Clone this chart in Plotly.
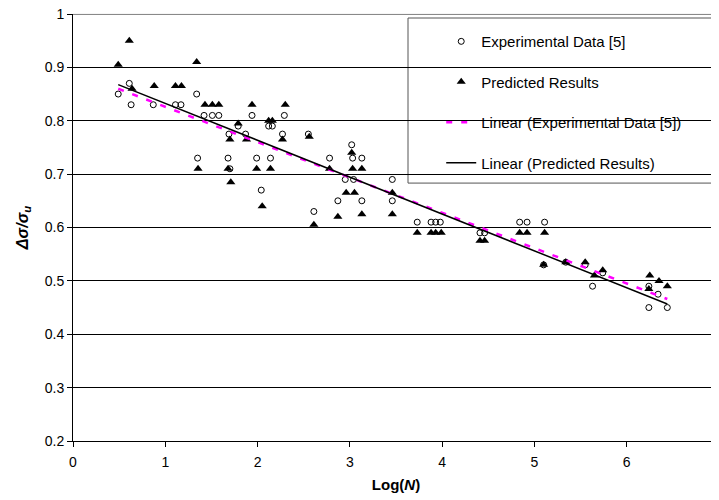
import numpy as np
import plotly.graph_objects as go

# Experimental data [5]
exp_x = [0.49, 0.61, 0.63, 0.87, 1.11, 1.17, 1.34, 1.35, 1.42, 1.51, 1.58,
         1.69, 1.68, 1.70, 1.79, 1.87, 1.94, 1.99, 2.04, 2.12, 2.16, 2.14,
         2.27, 2.29, 2.55, 2.61, 2.78, 2.87, 2.95, 3.02, 3.03, 3.04, 3.13,
         3.13, 3.46, 3.46, 3.73, 3.88, 3.93, 3.98, 4.41, 4.46, 4.84, 4.92,
         5.11, 5.10, 5.34, 5.55, 5.63, 5.74, 6.24, 6.24, 6.34, 6.44]
exp_y = [0.85, 0.87, 0.83, 0.83, 0.83, 0.83, 0.85, 0.73, 0.81, 0.81, 0.81,
         0.775, 0.73, 0.71, 0.79, 0.775, 0.81, 0.73, 0.67, 0.79, 0.79, 0.73,
         0.775, 0.81, 0.775, 0.63, 0.73, 0.65, 0.69, 0.755, 0.73, 0.69, 0.73,
         0.65, 0.69, 0.65, 0.61, 0.61, 0.61, 0.61, 0.59, 0.59, 0.61, 0.61,
         0.61, 0.53, 0.535, 0.53, 0.49, 0.515, 0.49, 0.45, 0.475, 0.45]

# Predicted results
pred_x = [0.49, 0.61, 0.64, 0.88, 1.11, 1.175, 1.34, 1.355, 1.43, 1.51, 1.58,
          1.70, 1.68, 1.71, 1.79, 1.88, 1.94, 1.99, 2.05, 2.12, 2.16, 2.14,
          2.27, 2.30, 2.56, 2.61, 2.78, 2.87, 2.96, 3.02, 3.03, 3.05, 3.13,
          3.13, 3.46, 3.46, 3.73, 3.88, 3.93, 3.99, 4.41, 4.46, 4.84, 4.92,
          5.11, 5.10, 5.34, 5.55, 5.65, 5.74, 6.25, 6.24, 6.35, 6.44]
pred_y = [0.905, 0.95, 0.86, 0.865, 0.865, 0.865, 0.91, 0.71, 0.83, 0.83, 0.83,
          0.765, 0.71, 0.685, 0.795, 0.765, 0.83, 0.71, 0.64, 0.80, 0.80, 0.71,
          0.765, 0.83, 0.77, 0.605, 0.71, 0.62, 0.665, 0.74, 0.71, 0.665, 0.71,
          0.625, 0.665, 0.625, 0.59, 0.59, 0.59, 0.59, 0.575, 0.575, 0.59, 0.59,
          0.59, 0.53, 0.535, 0.535, 0.51, 0.52, 0.51, 0.485, 0.50, 0.49]

x_ticks = [0, 1, 2, 3, 4, 5, 6, 7]
y_ticks = [0.2, 0.3, 0.4, 0.5, 0.6, 0.7, 0.8, 0.9, 1.0]
y_tick_text = ["0.2", "0.3", "0.4", "0.5", "0.6", "0.7", "0.8", "0.9", "1"]


def trend(xs, ys):
    m, c = np.polyfit(xs, ys, 1)
    xx = np.array([min(xs), max(xs)])
    return xx, m * xx + c


ex_tx, ex_ty = trend(exp_x, exp_y)
pr_tx, pr_ty = trend(pred_x, pred_y)

FONT = "Liberation Sans, Arial, sans-serif"

fig = go.Figure()
fig.add_trace(go.Scatter(
    x=exp_x, y=exp_y, mode="markers", name="Experimental Data [5]",
    legendgroup="a",
    marker=dict(symbol="circle-open", size=6, color="black", line=dict(width=1, color="black"))))
fig.add_trace(go.Scatter(
    x=pred_x, y=pred_y, mode="markers", name="Predicted Results",
    legendgroup="b",
    marker=dict(symbol="triangle-up", size=8, color="black")))
fig.add_trace(go.Scatter(
    x=ex_tx, y=ex_ty, mode="lines", name="Linear (Experimental Data [5])",
    legendgroup="c",
    line=dict(color="#FF00FF", width=2.5, dash="6px,9px")))
fig.add_trace(go.Scatter(
    x=pr_tx, y=pr_ty, mode="lines", name="Linear (Predicted Results)",
    legendgroup="d",
    line=dict(color="black", width=1.5)))

# legend box outline (paper coords)
fig.add_shape(type="rect", xref="paper", yref="paper",
              x0=0.5186, x1=0.9923, y0=0.604, y1=0.9906,
              line=dict(color="#555555", width=1), fillcolor="white", layer="between")
# top border at 1.0
fig.add_shape(type="line", xref="paper", yref="paper", x0=0, x1=1, y0=0.999, y1=0.999,
              line=dict(color="#808080", width=1), layer="above")

fig.update_layout(
    width=711, height=492,
    margin=dict(l=65, r=0, t=6, b=59),
    paper_bgcolor="white", plot_bgcolor="white",
    font=dict(family=FONT, size=14, color="black"),
    showlegend=True,
    legend=dict(x=0.57, y=0.974, xanchor="left", yanchor="top",
                bgcolor="rgba(0,0,0,0)", borderwidth=0,
                font=dict(family=FONT, size=15, color="black"),
                tracegroupgap=18, itemwidth=30),
    xaxis=dict(range=[0, 7], tickvals=x_ticks, showgrid=False, zeroline=False,
               showline=True, linecolor="black", linewidth=1,
               ticks="outside", ticklen=5, tickcolor="black",
               ticklabeloverflow="allow", ticklabelstandoff=3, automargin=False,
               tickfont=dict(family=FONT, size=14),
               title=dict(text="<b>Log(<i>N</i>)</b>", font=dict(family=FONT, size=15), standoff=10)),
    yaxis=dict(range=[0.2, 1.0], tickvals=y_ticks, ticktext=y_tick_text,
               showgrid=True, gridcolor="black", gridwidth=1, zeroline=False,
               showline=True, linecolor="black", linewidth=1,
               ticks="outside", ticklen=5, tickcolor="black", automargin=False,
               ticklabeloverflow="allow",
               tickfont=dict(family=FONT, size=14),
               title=dict(text="<b><i>Δσ/σ<sub>u</sub></i></b>", font=dict(family=FONT, size=16), standoff=12)),
)

fig.write_html("out.html")
